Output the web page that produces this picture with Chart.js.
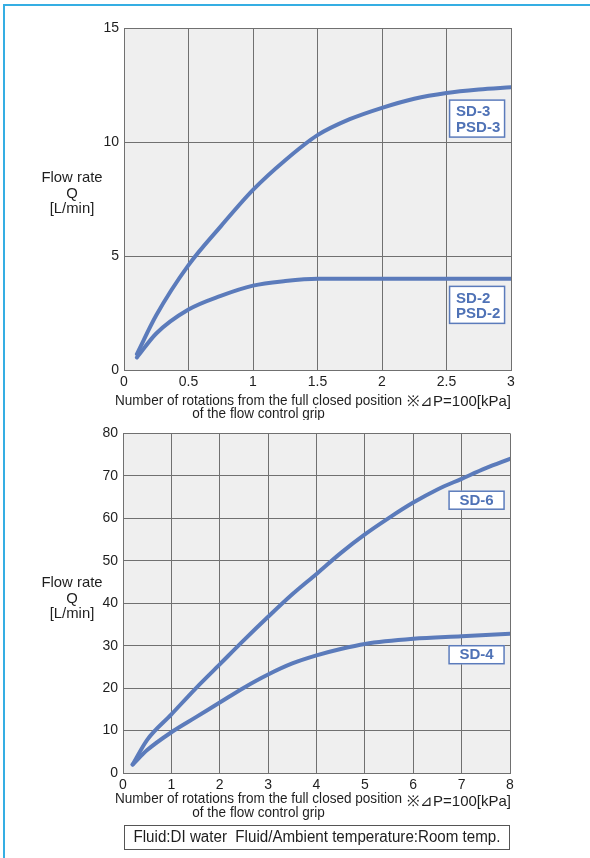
<!DOCTYPE html>
<html>
<head>
<meta charset="utf-8">
<script src="https://cdn.jsdelivr.net/npm/chart.js@4.4.1/dist/chart.umd.min.js"></script>
<style>
  html, body { margin: 0; padding: 0; background: #fff; }
  body { width: 590px; height: 858px; position: relative; overflow: hidden; }
  .frame { position: absolute; left: 3px; top: 4px; right: 0; bottom: 0;
           border-left: 2px solid #35aee3; border-top: 2px solid #35aee3; }
  .box { position: absolute; left: 0; width: 590px; }
  #topBox { top: 0; height: 420px; }
  #botBox { top: 420px; height: 438px; }
</style>
</head>
<body>
<div class="frame"></div>
<div class="box" id="topBox"><canvas id="chartTop"></canvas></div>
<div class="box" id="botBox"><canvas id="chartBottom"></canvas></div>
<script>
// rotations (x) and flow rate values
const sd3Rot  = [0.1, 0.25, 0.5, 0.75, 1, 1.25, 1.5, 1.75, 2, 2.25, 2.5, 2.75, 3];
const sd3Flow = [0.7, 2.4, 4.6, 6.3, 7.9, 9.2, 10.3, 11.0, 11.5, 11.9, 12.15, 12.3, 12.4];
const sd2Rot  = [0.1, 0.25, 0.5, 0.75, 1, 1.25, 1.5, 2, 2.5, 3];
const sd2Flow = [0.55, 1.6, 2.65, 3.25, 3.7, 3.9, 4.0, 4.0, 4.0, 4.0];

const sd6Rot  = [0.2, 0.5, 1, 1.5, 2, 2.5, 3, 3.5, 4, 4.5, 5, 5.5, 6, 6.5, 7, 7.5, 8];
const sd6Flow = [2, 7.8, 13.8, 19.9, 25.6, 31.3, 36.8, 42.1, 46.9, 51.8, 56.2, 60.1, 63.7, 66.8, 69.3, 71.8, 74];
const sd4Rot  = [0.2, 0.5, 1, 1.5, 2, 2.5, 3, 3.5, 4, 4.5, 5, 6, 7, 8];
const sd4Flow = [2, 5.4, 9.6, 13.1, 16.6, 20.1, 23.2, 25.8, 27.7, 29.2, 30.4, 31.6, 32.2, 32.8];

const yTitle = ['Flow rate', 'Q', '[L/min]'];
const xTitle = ['Number of rotations from the full closed position', 'of the flow control grip'];
const noteText = '\u203B\u22BFP=100[kPa]';
const footText = 'Fluid:DI water  Fluid/Ambient temperature:Room temp.';

const lineColor = '#5b7bbb';
const gridColor = '#707070';
const textFont = "'Liberation Sans', Arial, sans-serif";

function pts(xs, ys) {
  return xs.map((x, i) => ({ x: x, y: ys[i] }));
}

// draw text squeezed horizontally so the reference line fits its width
function squeezed(ctx, lines, cx, ys, refWidth, font) {
  ctx.font = font;
  const r = Math.min(1, refWidth / ctx.measureText(lines[0]).width);
  lines.forEach((t, i) => {
    ctx.save();
    ctx.translate(cx, ys[i]);
    ctx.scale(r, 1);
    ctx.fillText(t, 0, 0);
    ctx.restore();
  });
}

const plotBg = {
  id: 'plotBg',
  beforeDraw(chart) {
    const a = chart.chartArea, ctx = chart.ctx;
    ctx.save();
    ctx.fillStyle = '#efefef';
    ctx.fillRect(a.left, a.top, a.right - a.left, a.bottom - a.top);
    ctx.restore();
  }
};

const notes = {
  id: 'notes',
  afterDraw(chart, args, o) {
    const ctx = chart.ctx, a = chart.chartArea;
    const xs = chart.scales.x, ys = chart.scales.y;
    ctx.save();
    ctx.fillStyle = '#1e1e1e';
    ctx.textBaseline = 'middle';
    ctx.textAlign = 'center';
    squeezed(ctx, yTitle, 72, o.yTitleY, 61, '15px ' + textFont);
    squeezed(ctx, xTitle, 258.5, [a.bottom + o.xTitleDy[0], a.bottom + o.xTitleDy[1]], 287, '15px ' + textFont);
    ctx.textAlign = 'right';
    ctx.font = '15px ' + textFont;
    const nw = ctx.measureText(noteText).width;
    ctx.save();
    ctx.translate(511, a.bottom + o.noteDy);
    ctx.scale(Math.min(1, 104 / nw), 1);
    ctx.fillText(noteText, 0, 0);
    ctx.restore();

    // series tags
    o.tags.forEach(t => {
      const x = xs.getPixelForValue(t.x), y = ys.getPixelForValue(t.y);
      ctx.fillStyle = '#ffffff';
      ctx.fillRect(x, y, 56, t.h);
      ctx.strokeStyle = lineColor;
      ctx.lineWidth = 1.5;
      ctx.strokeRect(x + 0.5, y + 0.5, 55, t.h - 1);
      ctx.fillStyle = '#4f72b6';
      ctx.font = 'bold 15px ' + textFont;
      if (t.lines.length > 1) {
        ctx.textAlign = 'left';
        ctx.fillText(t.lines[0], x + 7, y + 12.5);
        ctx.fillText(t.lines[1], x + 7, y + 28);
      } else {
        ctx.textAlign = 'center';
        ctx.fillText(t.lines[0], x + 28, y + t.h / 2 + 0.5);
      }
    });

    if (o.footer) {
      ctx.strokeStyle = '#555';
      ctx.lineWidth = 1;
      ctx.strokeRect(124.5, o.footer.top + 0.5, 385, o.footer.h);
      ctx.fillStyle = '#1e1e1e';
      ctx.textAlign = 'center';
      squeezed(ctx, [footText], 317, [o.footer.top + o.footer.h / 2 + 0.5], 367, '16px ' + textFont);
    }
    ctx.restore();
  }
};

function makeChart(id, sets, xMax, xStep, yMax, yStep, frame, noteOpts) {
  return new Chart(document.getElementById(id).getContext('2d'), {
    type: 'line',
    data: {
      datasets: sets.map(s => ({
        data: s,
        borderColor: lineColor,
        borderWidth: 4,
        pointRadius: 0,
        fill: false,
        cubicInterpolationMode: 'monotone',
        borderCapStyle: 'round'
      }))
    },
    options: {
      responsive: true,
      maintainAspectRatio: false,
      animation: false,
      layout: { padding: { left: 0, top: frame.top, right: frame.right, bottom: 0 } },
      plugins: { legend: { display: false }, tooltip: { enabled: false }, notes: noteOpts },
      scales: {
        x: {
          type: 'linear', min: 0, max: xMax,
          ticks: { stepSize: xStep, color: '#1e1e1e', padding: 4, font: { family: textFont, size: 14 },
                   callback: v => String(v) },
          grid: { color: gridColor, drawTicks: false },
          border: { color: gridColor },
          afterFit: s => { s.height = frame.xHeight; }
        },
        y: {
          min: 0, max: yMax,
          ticks: { stepSize: yStep, color: '#1e1e1e', padding: 5, font: { family: textFont, size: 14 },
                   callback: v => String(v) },
          grid: { color: gridColor, drawTicks: false },
          border: { color: gridColor },
          afterFit: s => { s.width = frame.left; }
        }
      }
    },
    plugins: [plotBg, notes]
  });
}

makeChart('chartTop', [pts(sd3Rot, sd3Flow), pts(sd2Rot, sd2Flow)], 3, 0.5, 15, 5,
  { top: 28, right: 79, left: 124, xHeight: 50 },
  {
    yTitleY: [178, 193.5, 208.5],
    xTitleDy: [30.4, 43.7],
    noteDy: 31.4,
    tags: [
      { lines: ['SD-3', 'PSD-3'], x: 2.52, y: 11.86, h: 38 },
      { lines: ['SD-2', 'PSD-2'], x: 2.52, y: 3.69, h: 38 }
    ]
  });

makeChart('chartBottom', [pts(sd6Rot, sd6Flow), pts(sd4Rot, sd4Flow)], 8, 1, 80, 10,
  { top: 10, right: 80, left: 123, xHeight: 85 },
  {
    yTitleY: [163.3, 179.3, 194],
    xTitleDy: [25.6, 40],
    noteDy: 29,
    tags: [
      { lines: ['SD-6'], x: 6.73, y: 66.5, h: 19 },
      { lines: ['SD-4'], x: 6.73, y: 30.1, h: 19 }
    ],
    footer: { top: 405, h: 24 }
  });
</script>
</body>
</html>
